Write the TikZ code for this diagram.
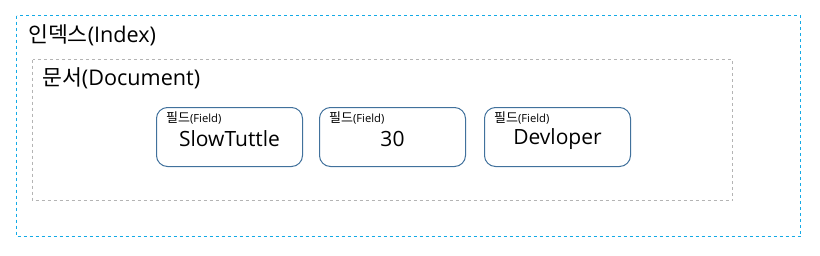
\documentclass[tikz,border=0pt]{standalone}
\usepackage{fontspec}
\setmainfont{Noto Sans CJK KR}
\newfontfamily\latinfont{Open Sans}
\definecolor{idxblue}{RGB}{20,170,230}
\definecolor{docgray}{RGB}{180,180,180}
\definecolor{fieldblue}{RGB}{65,113,156}
\tikzset{
  indexbox/.style={draw=idxblue, dashed, line width=1pt},
  docbox/.style={draw=docgray, dashed, line width=1pt},
  fieldbox/.style={draw=fieldblue, line width=1pt, rounded corners=11pt},
  title/.style={anchor=west, inner sep=0pt, font=\fontsize{21.6}{25}\selectfont},
  ftag/.style={anchor=west, inner sep=0pt, font=\fontsize{13}{15}\selectfont},
  fval/.style={inner sep=0pt, font=\fontsize{21}{25}\selectfont\latinfont},
}
\newcommand{\fieldtag}{필드{\latinfont\fontsize{11.2}{13}\selectfont(Field)}}
\begin{document}
\begin{tikzpicture}[x=1pt,y=-1pt]
\useasboundingbox (0,0) rectangle (820,255);
\draw[indexbox] (16.5,15.5) rectangle (800.5,236.5);
\node[title] (idx) at (28,35) {인덱스{\latinfont(Index)}};
\draw[docbox] (32.5,59.5) rectangle (732.5,200.5);
\node[title] (doc) at (42,78) {문서{\latinfont(Document)}};
\draw[fieldbox] (156.5,107.5) rectangle (302.5,166.5);
\draw[fieldbox] (319.5,107.5) rectangle (465.5,166.5);
\draw[fieldbox] (484.5,107.5) rectangle (630.5,166.5);
\node[ftag] (t1) at (166,118) {\fieldtag};
\node[ftag] (t2) at (329,118) {\fieldtag};
\node[ftag] (t3) at (494,118) {\fieldtag};
\node[fval] (v1) at (229.5,139) {SlowTuttle};
\node[fval] (v2) at (392.5,139) {30};
\node[fval] (v3) at (557.5,139) {Devloper};
\end{tikzpicture}
\end{document}
